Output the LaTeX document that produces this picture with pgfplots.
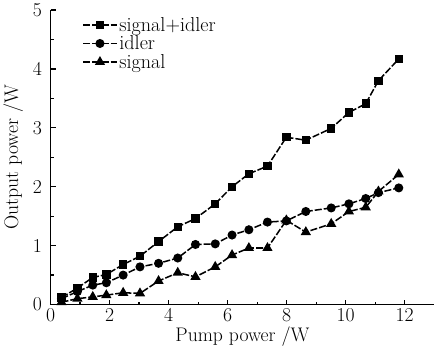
\documentclass[border=0pt]{standalone}
\usepackage{fontspec}
\setmainfont{Latin Modern Roman}
\usepackage{pgfplots}
\pgfplotsset{compat=1.18}
\begin{document}
\begin{tikzpicture}
\begin{axis}[
  scale only axis,
  width=379bp, height=291bp,
  xmin=0, xmax=13, ymin=0, ymax=5,
  axis x line*=bottom, axis y line*=left,
  axis line style={line width=1.6pt},
  tick align=inside,
  major tick length=5pt, minor tick length=3pt,
  tick style={line width=1.2pt, black},
  xtick={0,2,4,6,8,10,12},
  ytick={0,1,2,3,4,5},
  minor x tick num=1, minor y tick num=1,
  /pgf/number format/assume math mode=true,
  tick label style={font=\fontsize{19.5}{21}\selectfont},
  label style={font=\fontsize{19.5}{21}\selectfont},
  yticklabel style={xshift=-5pt},
  xlabel={Pump power /W},
  ylabel={Output power /W},
  xlabel style={yshift=2pt},
  ylabel style={yshift=3pt},
  legend style={draw=none, fill=none, at={(0.075,0.99)}, anchor=north west,
    font=\fontsize{20}{22}\selectfont, row sep=-1pt},
  legend cell align=left,
  legend image code/.code={\draw[mark repeat=2,mark phase=2,#1] plot coordinates {(0cm,0cm)(0.58cm,0cm)(1.16cm,0cm)};},
  every axis plot/.append style={line width=1.5pt, black, dash pattern=on 7pt off 2pt},
  clip=false,
]
\addplot[mark=square*, mark size=3.4pt, mark options={solid}] coordinates {
(0.37,0.12)(0.91,0.28)(1.43,0.46)(1.89,0.51)(2.46,0.68)(3.03,0.82)(3.66,1.07)(4.31,1.32)(4.91,1.46)(5.58,1.71)(6.15,2.0)(6.72,2.22)(7.35,2.35)(7.99,2.84)(8.65,2.79)(9.51,2.99)(10.11,3.26)(10.68,3.41)(11.11,3.80)(11.8,4.17)};
\addlegendentry{signal+idler}
\addplot[mark=*, mark size=3.7pt, mark options={solid}] coordinates {
(0.37,0.10)(0.91,0.22)(1.43,0.33)(1.89,0.37)(2.46,0.50)(3.03,0.64)(3.66,0.70)(4.31,0.79)(4.91,1.02)(5.58,1.03)(6.15,1.18)(6.72,1.27)(7.35,1.40)(7.99,1.42)(8.65,1.58)(9.51,1.64)(10.11,1.71)(10.68,1.80)(11.11,1.90)(11.8,1.98)};
\addlegendentry{idler}
\addplot[mark=triangle*, mark size=4.4pt, mark options={solid}] coordinates {
(0.37,0.04)(0.91,0.10)(1.43,0.13)(1.89,0.16)(2.46,0.20)(3.03,0.19)(3.66,0.40)(4.31,0.54)(4.91,0.47)(5.58,0.64)(6.15,0.84)(6.72,0.96)(7.35,0.96)(7.99,1.43)(8.65,1.23)(9.51,1.37)(10.11,1.58)(10.68,1.65)(11.11,1.92)(11.8,2.21)};
\addlegendentry{signal}
\end{axis}
\end{tikzpicture}
\end{document}
